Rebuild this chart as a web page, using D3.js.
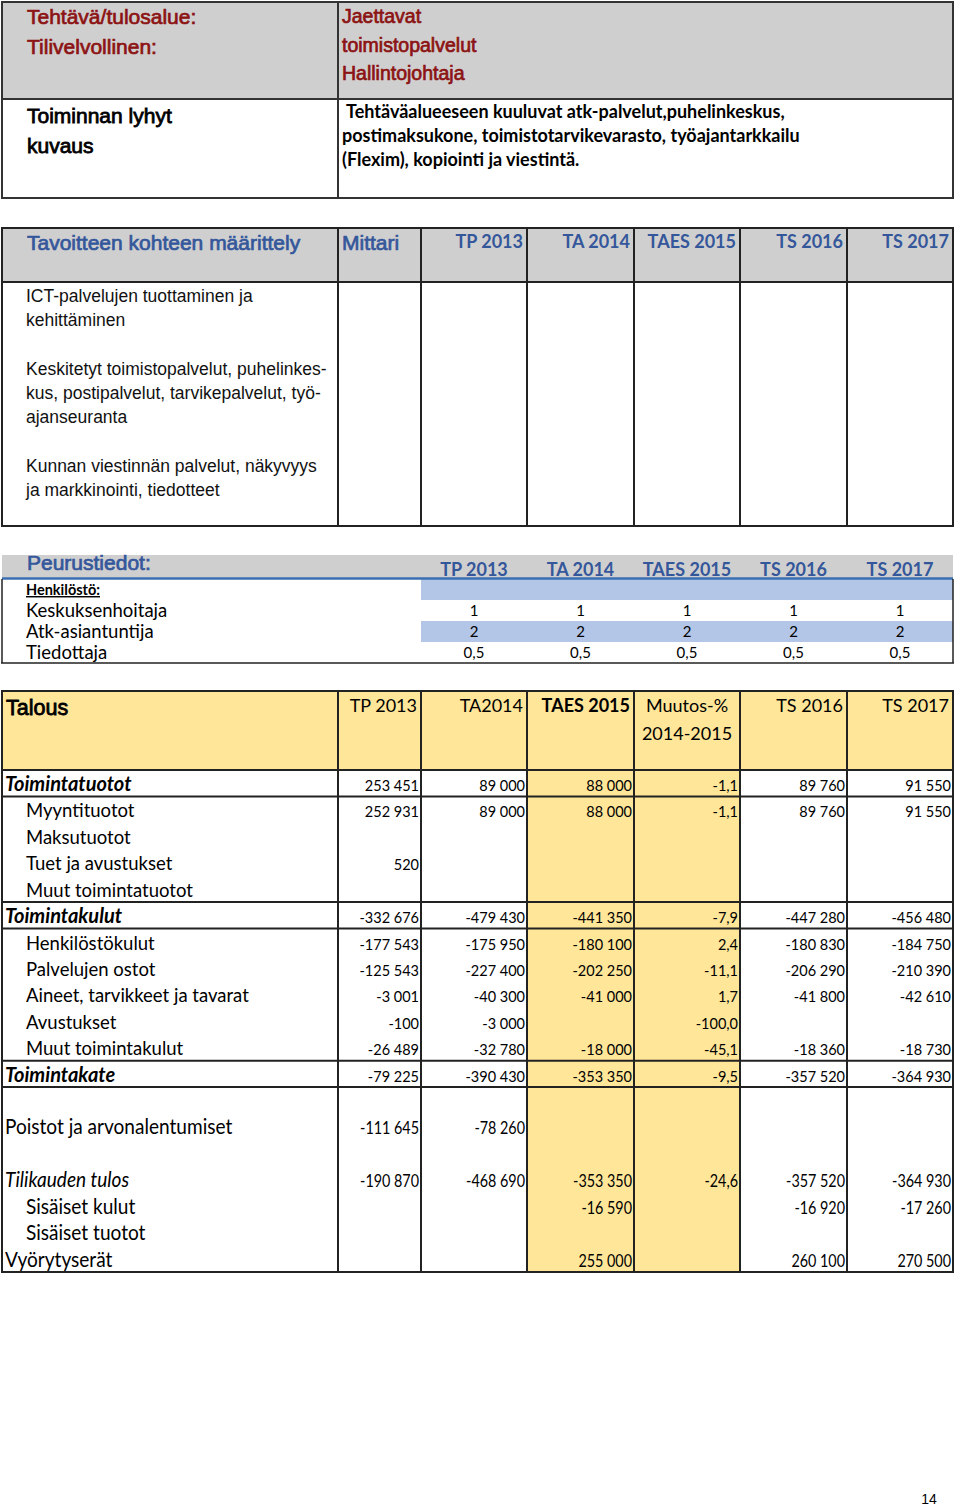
<!DOCTYPE html>
<html>
<head>
<meta charset="utf-8">
<script src="https://cdn.jsdelivr.net/npm/d3@7"></script>
<style>body{margin:0;background:#fff}</style>
</head>
<body>
<svg id="sivu"></svg>
<script>
// Jaettavat toimistopalvelut - talousarviosivu

const svg_w = 960;
const svg_h = 1507;

// --- tiedot ---
const otsikkoVasen = ["Tehtävä/tulosalue:", "Tilivelvollinen:"];
const otsikkoOikea = ["Jaettavat", "toimistopalvelut", "Hallintojohtaja"];
const kuvausOtsikko = ["Toiminnan lyhyt", "kuvaus"];
const kuvausTeksti = [
  "Tehtäväalueeseen kuuluvat atk-palvelut,puhelinkeskus,",
  "postimaksukone, toimistotarvikevarasto, työajantarkkailu",
  "(Flexim), kopiointi ja viestintä."
];
const tavoitteet = [
  ["ICT-palvelujen tuottaminen ja", "kehittäminen"],
  ["Keskitetyt toimistopalvelut, puhelinkes-", "kus, postipalvelut, tarvikepalvelut, työ-", "ajanseuranta"],
  ["Kunnan viestinnän palvelut, näkyvyys", "ja markkinointi, tiedotteet"]
];

const vuodet = ["TP 2013", "TA 2014", "TAES 2015", "TS 2016", "TS 2017"];
const henkilosto = ["Keskuksenhoitaja", "Atk-asiantuntija", "Tiedottaja"];
const henkTP2013 = [1, 2, 0.5];
const henkTA2014 = [1, 2, 0.5];
const henkTAES2015 = [1, 2, 0.5];
const henkTS2016 = [1, 2, 0.5];
const henkTS2017 = [1, 2, 0.5];

const talousOtsikot = ["TP 2013", "TA2014", "TAES 2015", "Muutos-%", "TS 2016", "TS 2017"];
const talousRivit = ["Toimintatuotot", "Myyntituotot", "Maksutuotot", "Tuet ja avustukset",
  "Muut toimintatuotot", "Toimintakulut", "Henkilöstökulut", "Palvelujen ostot",
  "Aineet, tarvikkeet ja tavarat", "Avustukset", "Muut toimintakulut", "Toimintakate", "",
  "Poistot ja arvonalentumiset", "", "Tilikauden tulos", "Sisäiset kulut", "Sisäiset tuotot",
  "Vyörytyserät"];
const tp2013 = [253451, 252931, null, 520, null, -332676, -177543, -125543, -3001, -100, -26489, -79225, null, -111645, null, -190870, null, null, null];
const ta2014 = [89000, 89000, null, null, null, -479430, -175950, -227400, -40300, -3000, -32780, -390430, null, -78260, null, -468690, null, null, null];
const taes2015 = [88000, 88000, null, null, null, -441350, -180100, -202250, -41000, null, -18000, -353350, null, null, null, -353350, -16590, null, 255000];
const muutos = [-1.1, -1.1, null, null, null, -7.9, 2.4, -11.1, 1.7, -100.0, -45.1, -9.5, null, null, null, -24.6, null, null, null];
const ts2016 = [89760, 89760, null, null, null, -447280, -180830, -206290, -41800, null, -18360, -357520, null, null, null, -357520, -16920, null, 260100];
const ts2017 = [91550, 91550, null, null, null, -456480, -184750, -210390, -42610, null, -18730, -364930, null, null, null, -364930, -17260, null, 270500];

// rivien tyylit
const summaRivit = [0, 5, 11];
const kursiiviRivit = [15];
const sisennetyt = [1, 2, 3, 4, 6, 7, 8, 9, 10, 16, 17];
const viivaRivinJalkeen = [0, 4, 5, 10, 11];
const keltaisetSarakkeet = [2, 3]; // TAES 2015 ja Muutos-%

// --- ulkoasu ---
const ARIAL = "'Liberation Sans', Arial, sans-serif";
const CAL = "Lato, 'Open Sans', sans-serif";
const punainen = "#8c1313";
const sininen = "#34579b";
const harmaa = "#d0cfcf";
const keltainen = "#ffe699";
const vaaleansininen = "#b4c6e7";

const fi = d3.formatLocale({decimal: ",", thousands: "\u00a0", grouping: [3], currency: ["", "€"], minus: "-"});
const fmtLuku = fi.format(",.0f");
const fmtPros = fi.format(",.1f");
const fmtHenk = fi.format(",.1~f");

// sarakkeiden reunat (sama kaikissa taulukoissa)
const colX = d3.scaleLinear().domain(d3.range(8)).range([2, 338, 421, 527, 634, 740, 847, 953]);

let svg = d3.select("#sivu").attr("width", svg_w).attr("height", svg_h);
svg.append("rect").attr("width", svg_w).attr("height", svg_h).attr("fill", "#fff");

function viiva(g, x1, y1, x2, y2, vari, leveys) {
  g.append("line").attr("x1", x1).attr("y1", y1).attr("x2", x2).attr("y2", y2)
    .attr("stroke", vari || "#222").attr("stroke-width", leveys || 2);
}

function teksti(g, x, y, s, o) {
  let t = g.append("text")
    .attr("transform", `translate(${x},${y})` + (o.sx ? ` scale(${o.sx},1)` : ""))
    .attr("font-family", o.font || ARIAL)
    .attr("font-size", o.size)
    .attr("font-weight", o.weight || "normal")
    .attr("font-style", o.style || "normal")
    .attr("text-anchor", o.anchor || "start")
    .attr("fill", o.fill || "#000")
    .text(s);
  if (o.heavy) t.attr("stroke", o.fill || "#000").attr("stroke-width", o.heavy);
  if (o.underline) t.attr("text-decoration", "underline");
  return t;
}

// ===== taulukko 1 =====
let t1 = svg.append("g");
t1.append("rect").attr("x", 2).attr("y", 2).attr("width", 951).attr("height", 97).attr("fill", harmaa);
otsikkoVasen.forEach((s, i) => teksti(t1, 27, 24 + i * 29.5, s, {size: 21, fill: punainen, heavy: 0.7}));
otsikkoOikea.forEach((s, i) => teksti(t1, 342, 23 + i * 28.5, s, {size: 19.5, fill: punainen, heavy: 0.7}));
kuvausOtsikko.forEach((s, i) => teksti(t1, 27, 123 + i * 29.5, s, {size: 21, heavy: 0.8}));
kuvausTeksti.forEach((s, i) => teksti(t1, i == 0 ? 346 : 342, 118 + i * 24, s, {size: 18, font: CAL, weight: "bold"}));
viiva(t1, 1, 2, 954, 2, "#333");
viiva(t1, 2, 99, 953, 99, "#333");
viiva(t1, 1, 198, 954, 198, "#333");
viiva(t1, 2, 1, 2, 199, "#333");
viiva(t1, 953, 1, 953, 199, "#333");
viiva(t1, colX(1), 2, colX(1), 198, "#333");

// ===== taulukko 2 =====
let t2 = svg.append("g");
t2.append("rect").attr("x", 2).attr("y", 228).attr("width", 951).attr("height", 54).attr("fill", harmaa);
teksti(t2, 27, 250, "Tavoitteen kohteen määrittely", {size: 21, fill: sininen, heavy: 0.7});
teksti(t2, 342, 250, "Mittari", {size: 21, fill: sininen, heavy: 0.7});
vuodet.forEach((s, i) => teksti(t2, colX(i + 3) - 4, 248, s, {size: 18, font: CAL, weight: "bold", fill: sininen, anchor: "end"}));
let tavoiteRivit = [];
tavoitteet.forEach((ryhma, i) => {
  if (i > 0) tavoiteRivit.push("");
  tavoiteRivit = tavoiteRivit.concat(ryhma);
});
tavoiteRivit.forEach((s, i) => teksti(t2, 26, 302 + i * 24.25, s, {size: 17.5, fill: "#111"}));
[228, 282, 526].forEach(y => viiva(t2, 1, y, 954, y));
d3.range(8).forEach(i => viiva(t2, colX(i), 228, colX(i), 526));

// ===== taulukko 3: peurustiedot =====
let t3 = svg.append("g");
let henkRivit = ["Henkilöstö:"].concat(henkilosto);
let y3 = d3.scaleBand().domain(henkRivit).range([579, 663]);
let henkArvot = [henkTP2013, henkTA2014, henkTAES2015, henkTS2016, henkTS2017];
t3.append("rect").attr("x", 2).attr("y", 555).attr("width", 951).attr("height", 23).attr("fill", harmaa);
[henkRivit[0], henkRivit[2]].forEach(r => {
  t3.append("rect").attr("x", colX(2)).attr("y", y3(r)).attr("width", colX(7) - colX(2))
    .attr("height", y3.bandwidth()).attr("fill", vaaleansininen);
});
teksti(t3, 27, 570, "Peurustiedot:", {size: 21, fill: sininen, heavy: 0.7});
vuodet.forEach((s, i) => teksti(t3, (colX(i + 2) + colX(i + 3)) / 2, 576, s, {size: 18, font: CAL, weight: "bold", fill: sininen, anchor: "middle"}));
teksti(t3, 26, y3("Henkilöstö:") + 16, "Henkilöstö:", {size: 14.5, font: CAL, weight: "bold", underline: true});
henkilosto.forEach((s, r) => {
  teksti(t3, 26, y3(s) + 17, s, {size: 18.5, font: CAL});
  henkArvot.forEach((arr, i) => teksti(t3, (colX(i + 2) + colX(i + 3)) / 2, y3(s) + 16, fmtHenk(arr[r]), {size: 15, font: CAL, anchor: "middle"}));
});
viiva(t3, 2, 578.5, 953, 578.5, "#3a6fb2", 2.5);
viiva(t3, 2, 579, 2, 663, "#222", 1.5);
viiva(t3, 953, 579, 953, 663, "#222", 1.5);
viiva(t3, 1, 663, 954, 663, "#222", 1.5);

// ===== taulukko 4: talous =====
let t4 = svg.append("g");
let y4 = d3.scaleBand().domain(d3.range(talousRivit.length)).range([770, 1272]);
let sarakkeet = [tp2013, ta2014, taes2015, muutos, ts2016, ts2017];
t4.append("rect").attr("x", 2).attr("y", 691).attr("width", 951).attr("height", 79).attr("fill", keltainen);
keltaisetSarakkeet.forEach(c => t4.append("rect").attr("x", colX(c + 1)).attr("y", 770)
  .attr("width", colX(c + 2) - colX(c + 1)).attr("height", 502).attr("fill", keltainen));

teksti(t4, 6, 715, "Talous", {size: 21.5, heavy: 0.8});
talousOtsikot.forEach((s, i) => {
  if (i == 3) {
    let cx = (colX(i + 1) + colX(i + 2)) / 2;
    teksti(t4, cx, 712, s, {size: 18, font: CAL, anchor: "middle"});
    teksti(t4, cx, 740, "2014-2015", {size: 18, font: CAL, anchor: "middle"});
  } else {
    teksti(t4, colX(i + 2) - 4, 712, s, {size: 18, font: CAL, weight: i == 2 ? "bold" : "normal", anchor: "end"});
  }
});

talousRivit.forEach((s, r) => {
  let yb = y4(r) + 21;
  let tiivis = r >= 12;
  let o = {size: tiivis ? 20.5 : 18.5, font: CAL, sx: tiivis ? 0.93 : null};
  if (summaRivit.includes(r)) { o.weight = "bold"; o.style = "italic"; o.size = 20; }
  if (kursiiviRivit.includes(r)) o.style = "italic";
  teksti(t4, sisennetyt.includes(r) ? 26 : 5, yb, s, o);
  sarakkeet.forEach((arr, c) => {
    let v = arr[r];
    if (v == null) return;
    teksti(t4, colX(c + 2) - 2, yb, c == 3 ? fmtPros(v) : fmtLuku(v),
      {size: tiivis ? 16.5 : 14.5, font: CAL, anchor: "end", sx: tiivis ? 0.87 : null});
  });
});

[691, 770].forEach(y => viiva(t4, 1, y, 954, y));
viivaRivinJalkeen.forEach(r => viiva(t4, 1, y4(r) + y4.bandwidth(), 954, y4(r) + y4.bandwidth()));
viiva(t4, 1, 1272, 954, 1272);
d3.range(8).forEach(i => viiva(t4, colX(i), 691, colX(i), 1272));

// sivunumero
teksti(svg, 929, 1504, "14", {size: 14, anchor: "middle"});
</script>
</body>
</html>
